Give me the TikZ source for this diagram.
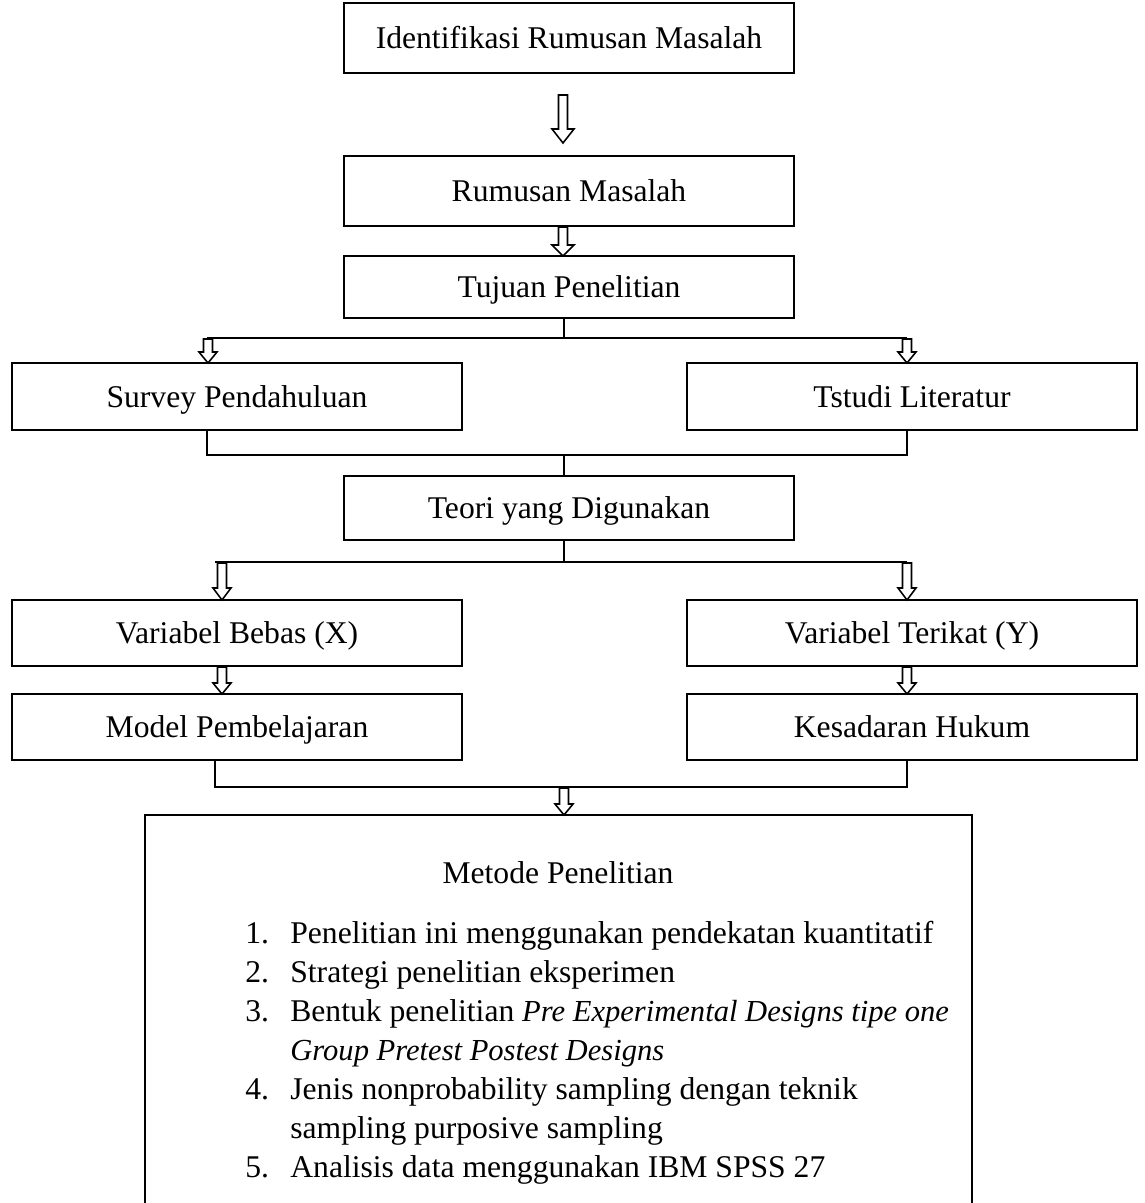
\documentclass[tikz,border=0pt]{standalone}
\usepackage{fontspec}
\setmainfont{Liberation Serif}
\begin{document}
\begin{tikzpicture}[x=0.02cm,y=-0.02cm,
  box/.style={draw,line width=1.1pt,minimum height=#1*0.02cm,inner sep=0pt,text height=12.5pt,text depth=0.5pt,font=\fontsize{18}{22}\selectfont},
  wide/.style={minimum width=9cm},
  conn/.style={line width=1.1pt},
  arrline/.style={draw,line width=0.9pt,fill=white,line join=miter},
  txt/.style={anchor=base west,inner sep=0pt,font=\fontsize{18}{22}\selectfont}]
\useasboundingbox (0,0) rectangle (1145,1203);
\newcommand\harrow[5]{% x, ytop, ytip, headbase, halfhead
  \draw[arrline] (#1-4.5,#2) -- (#1+4.5,#2) -- (#1+4.5,#4) -- (#1+#5,#4) -- (#1,#3) -- (#1-#5,#4) -- (#1-4.5,#4) -- cycle;}

\node[box=70,wide] (b1) at (569,38) {Identifikasi Rumusan Masalah};
\node[box=70,wide] (b2) at (569,191) {Rumusan Masalah};
\node[box=62,wide] (b3) at (569,287) {Tujuan Penelitian};
\node[box=67,wide] (b4) at (237,396.5) {Survey Pendahuluan};
\node[box=67,wide] (b5) at (912,396.5) {Tstudi Literatur};
\node[box=64,wide] (b6) at (569,508) {Teori yang Digunakan};
\node[box=66,wide] (b7) at (237,633) {Variabel Bebas (X)};
\node[box=66,wide] (b8) at (912,633) {Variabel Terikat (Y)};
\node[box=66,wide] (b9) at (237,727) {Model Pembelajaran};
\node[box=66,wide] (b10) at (912,727) {Kesadaran Hukum};
\draw[line width=1.1pt] (145,815) rectangle (972,1260);
\coordinate (b11top) at (564,815);

% connectors
\coordinate (j1) at (564,338);
\coordinate (l1) at (207,338);
\coordinate (r1) at (907,338);
\draw[conn] (b3.south -| j1) -- (j1);
\draw[conn] (l1) -- (r1);

\coordinate (l2) at (207,455);
\coordinate (r2) at (907,455);
\coordinate (j2) at (564,455);
\draw[conn] (b4.south -| l2) -- (l2) -- (r2) -- (b5.south -| r2);
\draw[conn] (j2) -- (b6.north -| j2);

\coordinate (j3) at (564,562);
\coordinate (l3) at (215,562);
\coordinate (r3) at (907,562);
\draw[conn] (b6.south -| j3) -- (j3);
\draw[conn] (l3) -- (r3);

\coordinate (l4) at (215,787);
\coordinate (r4) at (907,787);
\draw[conn] (b9.south -| l4) -- (l4) -- (r4) -- (b10.south -| r4);

% hollow arrows
\harrow{563}{95}{143}{129}{11}
\harrow{563}{227}{256}{245}{11}
\harrow{208}{339}{363}{352}{9}
\harrow{907}{339}{363}{352}{9}
\harrow{222}{563}{600}{588}{9}
\harrow{907}{563}{600}{588}{9}
\harrow{222}{667}{694}{683}{9}
\harrow{907}{667}{694}{683}{9}
\harrow{564}{788}{815}{804}{9}

% Metode Penelitian text
\node[anchor=base,inner sep=0pt,font=\fontsize{18}{22}\selectfont] (mt) at (558,883) {Metode Penelitian};
\node[txt] (n1) at (245,943) {1.};
\node[txt] (t1) at (290,943) {Penelitian ini menggunakan pendekatan kuantitatif};
\node[txt] (n2) at (245,982) {2.};
\node[txt] (t2) at (290,982) {Strategi penelitian eksperimen};
\node[txt] (n3) at (245,1021) {3.};
\node[txt] (t3) at (290,1021) {Bentuk penelitian \textit{\fontsize{17.4}{22}\selectfont Pre Experimental Designs tipe one}};
\node[txt] (t3b) at (290,1060) {\textit{\fontsize{17.4}{22}\selectfont Group Pretest Postest Designs}};
\node[txt] (n4) at (245,1099) {4.};
\node[txt] (t4) at (290,1099) {Jenis nonprobability sampling dengan teknik};
\node[txt] (t4b) at (290,1138) {sampling purposive sampling};
\node[txt] (n5) at (245,1177) {5.};
\node[txt] (t5) at (290,1177) {Analisis data menggunakan IBM SPSS 27};
\end{tikzpicture}
\end{document}
